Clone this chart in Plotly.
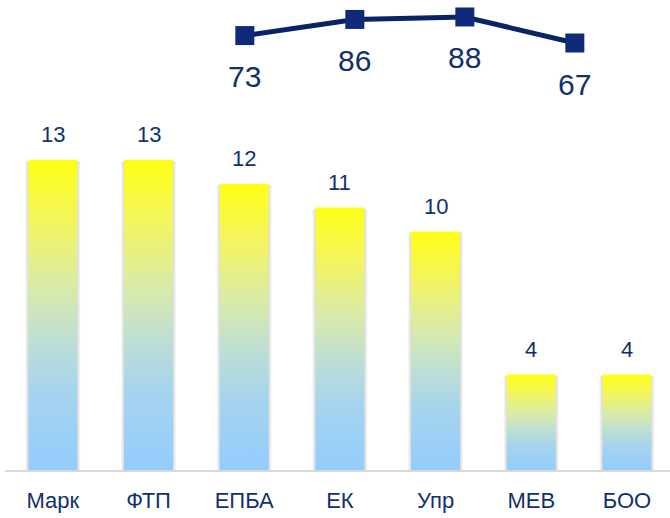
import plotly.graph_objects as go

categories = ["Марк", "ФТП", "ЕПБА", "ЕК", "Упр", "МЕВ", "БОО"]
bar_values = [13, 13, 12, 11, 10, 4, 4]
line_values = [73, 86, 88, 67]

NAVY = "#13306E"
FONT = "Arial, Liberation Sans, sans-serif"
gradient = [
    [0.0, "#94CCFC"],
    [0.25, "#A6D4EE"],
    [0.42, "#BEDFD4"],
    [0.58, "#D8EAAC"],
    [0.78, "#F1F466"],
    [1.0, "#FFFF14"],
]
half = 0.256
px = 1 / 95.7  # one pixel in category units

fig = go.Figure()

# soft shadow layers behind the bars
for k in (3, 2, 1):
    for i, v in enumerate(bar_values):
        w = half + k * px
        fig.add_trace(go.Scatter(
            x=[i - w, i + w, i + w, i - w, i - w],
            y=[0, 0, v - 0.05, v - 0.05, 0],
            mode="lines", line=dict(width=0),
            fill="toself", fillcolor="rgba(0,0,0,0.045)",
            hoverinfo="skip", showlegend=False,
        ))

for i, v in enumerate(bar_values):
    fig.add_trace(go.Scatter(
        x=[i - half, i + half, i + half, i - half, i - half],
        y=[0, 0, v, v, 0],
        mode="lines",
        line=dict(width=0),
        fill="toself",
        fillgradient=dict(type="vertical", colorscale=gradient),
        hoverinfo="skip",
        showlegend=False,
    ))
    fig.add_annotation(
        x=i, y=v, text=str(v), showarrow=False,
        yanchor="middle", yshift=25,
        font=dict(size=22, color=NAVY, family=FONT),
    )

line_x = list(range(len(line_values)))
fig.add_trace(go.Scatter(
    x=line_x, y=line_values,
    xaxis="x2", yaxis="y2",
    mode="lines+markers",
    line=dict(color="#0A2266", width=5),
    marker=dict(symbol="square", size=19, color="#102A7A"),
    showlegend=False,
))
for xi, v in zip(line_x, line_values):
    fig.add_annotation(
        x=xi, y=v, xref="x2", yref="y2", text=str(v), showarrow=False,
        yanchor="middle", yshift=-41,
        font=dict(size=30, color=NAVY, family=FONT),
    )

fig.update_layout(
    width=670, height=518,
    margin=dict(l=5, r=0, t=0, b=48),
    paper_bgcolor="white", plot_bgcolor="white",
    font=dict(family=FONT, color=NAVY),
    xaxis=dict(
        range=[-0.5, 6.45],
        tickvals=list(range(len(categories))),
        ticktext=categories,
        tickfont=dict(size=22, color=NAVY, family=FONT),
        showgrid=False, zeroline=False,
        showline=True, linecolor="#D9D9D9", linewidth=2,
        ticks="", ticklabelstandoff=10,
        fixedrange=True,
    ),
    yaxis=dict(range=[0, 19.7], visible=False, fixedrange=True),
    xaxis2=dict(range=[-2.18, 3.865], overlaying="x", visible=False),
    yaxis2=dict(range=[-277.5, 101.7], overlaying="y", visible=False),
)

fig.write_html(
    "out.html",
    config={"displayModeBar": False},
    post_script="document.body.style.margin='0';document.body.style.padding='0';",
)
